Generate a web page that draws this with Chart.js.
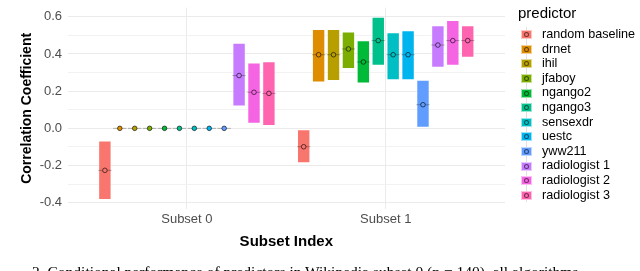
<!DOCTYPE html>
<html lang="en">
<head>
    <meta charset="UTF-8">
    <title>Correlation Coefficient by Subset</title>
    <script src="https://cdn.jsdelivr.net/npm/chart.js@4"></script>
    <style>
        body {
            margin: 0;
            width: 640px;
            height: 271px;
            overflow: hidden;
            background: #fff;
            font-family: "Liberation Sans", Arial, sans-serif;
            position: relative;
        }
        #wrap {
            position: absolute;
            left: 0;
            top: 0;
            width: 640px;
            height: 271px;
        }
        #legend {
            position: absolute;
            left: 518px;
            top: 3px;
            color: #000;
        }
        #legend .title {
            font-size: 15px;
            height: 19px;
            line-height: 19px;
            margin-bottom: 5px;
        }
        #legend .item {
            position: relative;
            height: 14.6px;
            line-height: 14.6px;
            font-size: 12.6px;
            white-space: nowrap;
        }
        #legend .key {
            position: absolute;
            left: 2px;
            top: 0;
            width: 12px;
            height: 14.6px;
        }
        #legend .vline {
            position: absolute;
            left: 5.5px;
            top: 0;
            width: 1px;
            height: 14.6px;
            background: rgba(0, 0, 0, 0.12);
        }
        #legend .rect {
            position: absolute;
            left: 1px;
            top: 3.3px;
            width: 9px;
            height: 7px;
            border: 1px solid rgba(255, 255, 255, 0.6);
        }
        #legend .dot {
            position: absolute;
            left: 3.5px;
            top: 5.3px;
            width: 3px;
            height: 3px;
            border-radius: 50%;
            border: 1px solid rgba(0, 0, 0, 0.55);
        }
        #legend .label {
            position: absolute;
            left: 24px;
            top: 0;
        }
        #caption {
            position: absolute;
            left: 32px;
            top: 263px;
            font-family: "Liberation Serif", "Times New Roman", serif;
            font-size: 15.5px;
            color: #000;
            white-space: nowrap;
        }
    </style>
</head>
<body>
    <div id="wrap"><canvas id="chart" width="640" height="271"></canvas></div>
    <div id="legend"></div>
    <div id="caption">2. Conditional performance of predictors in Wikipedia subset 0 (n = 140), all algorithms</div>

    <script>
        const subsets = ['Subset 0', 'Subset 1'];
        const predictors = ['random baseline', 'drnet', 'ihil', 'jfaboy', 'ngango2', 'ngango3',
                            'sensexdr', 'uestc', 'yww211', 'radiologist 1', 'radiologist 2', 'radiologist 3'];
        const colors = ['#F8766D', '#DE8C00', '#B79F00', '#7CAE00', '#00BA38', '#00C08B',
                        '#00BFC4', '#00B4F0', '#619CFF', '#C77CFF', '#F564E3', '#FF64B0'];

        // one row per subset, one entry per predictor
        const lower = [
            [-0.385, 0, 0, 0, 0, 0, 0, 0, 0, 0.118, 0.024, 0.012],
            [-0.188, 0.246, 0.255, 0.319, 0.241, 0.337, 0.259, 0.259, 0.000, 0.326, 0.337, 0.380]
        ];
        const upper = [
            [-0.065, 0, 0, 0, 0, 0, 0, 0, 0, 0.460, 0.354, 0.361],
            [-0.005, 0.534, 0.534, 0.521, 0.474, 0.600, 0.517, 0.528, 0.262, 0.554, 0.583, 0.555]
        ];
        const mean = [
            [-0.226, 0, 0, 0, 0, 0, 0, 0, 0, 0.284, 0.194, 0.188],
            [-0.099, 0.396, 0.396, 0.427, 0.357, 0.472, 0.396, 0.396, 0.127, 0.448, 0.472, 0.472]
        ];

        const yTicks = [-0.4, -0.3, -0.2, -0.1, 0, 0.1, 0.2, 0.3, 0.4, 0.5, 0.6];
        const yLabels = ['-0.4', '', '-0.2', '', '0.0', '', '0.2', '', '0.4', '', '0.6'];

        // dodge predictors within each subset (total width 0.9)
        const dodge = 0.9 / predictors.length;
        function xPos(s, p) {
            return s + (p - (predictors.length - 1) / 2) * dodge;
        }

        const boxes = [], mids = [], dots = [], boxColors = [], dotColors = [];
        subsets.forEach((_, s) => {
            predictors.forEach((_, p) => {
                const x = xPos(s, p);
                boxes.push({x: x, y: [lower[s][p], upper[s][p]]});
                mids.push({x: x, y: mean[s][p]});
                dots.push({x: x, y: mean[s][p]});
                boxColors.push(colors[p]);
                dotColors.push(colors[p]);
            });
        });

        const gridColor = '#ebebeb';
        const tickColor = '#4d4d4d';

        new Chart(document.getElementById('chart'), {
            type: 'bar',
            data: {
                datasets: [
                    {
                        type: 'bar',
                        data: boxes,
                        backgroundColor: boxColors,
                        borderColor: 'rgba(255, 255, 255, 0.55)',
                        borderWidth: 1,
                        borderSkipped: false,
                        categoryPercentage: 1,
                        barPercentage: 0.9,
                        order: 3
                    },
                    {
                        type: 'scatter',
                        data: mids,
                        pointStyle: 'line',
                        pointRadius: 6.7,
                        borderColor: 'rgba(0, 0, 0, 0.28)',
                        borderWidth: 1,
                        order: 2
                    },
                    {
                        type: 'scatter',
                        data: dots,
                        pointStyle: 'circle',
                        pointRadius: 2.3,
                        backgroundColor: dotColors,
                        borderColor: 'rgba(0, 0, 0, 0.6)',
                        borderWidth: 1,
                        order: 1
                    }
                ]
            },
            options: {
                responsive: false,
                animation: false,
                events: [],
                layout: {
                    padding: {left: 0, right: 135, top: 1, bottom: 0}
                },
                plugins: {
                    legend: {display: false},
                    tooltip: {enabled: false}
                },
                scales: {
                    x: {
                        type: 'linear',
                        min: -0.6,
                        max: 1.6,
                        offset: false,
                        afterBuildTicks: scale => {
                            scale.ticks = subsets.map((_, i) => ({value: i}));
                        },
                        afterFit: scale => {
                            scale.height = 62;
                        },
                        ticks: {
                            padding: 3,
                            color: tickColor,
                            font: {family: 'Liberation Sans', size: 13},
                            callback: v => subsets[v]
                        },
                        grid: {color: gridColor, drawTicks: false, lineWidth: 1, offset: false},
                        border: {display: false},
                        title: {
                            display: true,
                            text: 'Subset Index',
                            color: '#000',
                            font: {family: 'Liberation Sans', size: 15, weight: 'bold'},
                            padding: {top: 0, bottom: 20}
                        }
                    },
                    y: {
                        type: 'linear',
                        min: -0.434,
                        max: 0.649,
                        afterBuildTicks: scale => {
                            scale.ticks = yTicks.map(v => ({value: v}));
                        },
                        afterFit: scale => {
                            scale.width = 67.6;
                            scale.paddingTop = 0;
                            scale.paddingBottom = 0;
                        },
                        ticks: {
                            padding: 5.5,
                            color: tickColor,
                            font: {family: 'Liberation Sans', size: 13},
                            callback: (v, i) => yLabels[i]
                        },
                        grid: {
                            color: ctx => ctx.index % 2 === 0 ? gridColor : '#f2f2f2',
                            drawTicks: false
                        },
                        border: {display: false},
                        title: {
                            display: true,
                            text: 'Correlation Coefficient',
                            color: '#000',
                            font: {family: 'Liberation Sans', size: 14, weight: 'bold'},
                            padding: {top: 19, bottom: 0}
                        }
                    }
                }
            }
        });

        // legend
        const legend = document.getElementById('legend');
        let html = '<div class="title">predictor</div>';
        predictors.forEach((name, i) => {
            html += '<div class="item"><div class="key"><div class="vline"></div>' +
                '<div class="rect" style="background:' + colors[i] + '"></div>' +
                '<div class="dot" style="background:' + colors[i] + '"></div></div>' +
                '<div class="label">' + name + '</div></div>';
        });
        legend.innerHTML = html;
    </script>
</body>
</html>
